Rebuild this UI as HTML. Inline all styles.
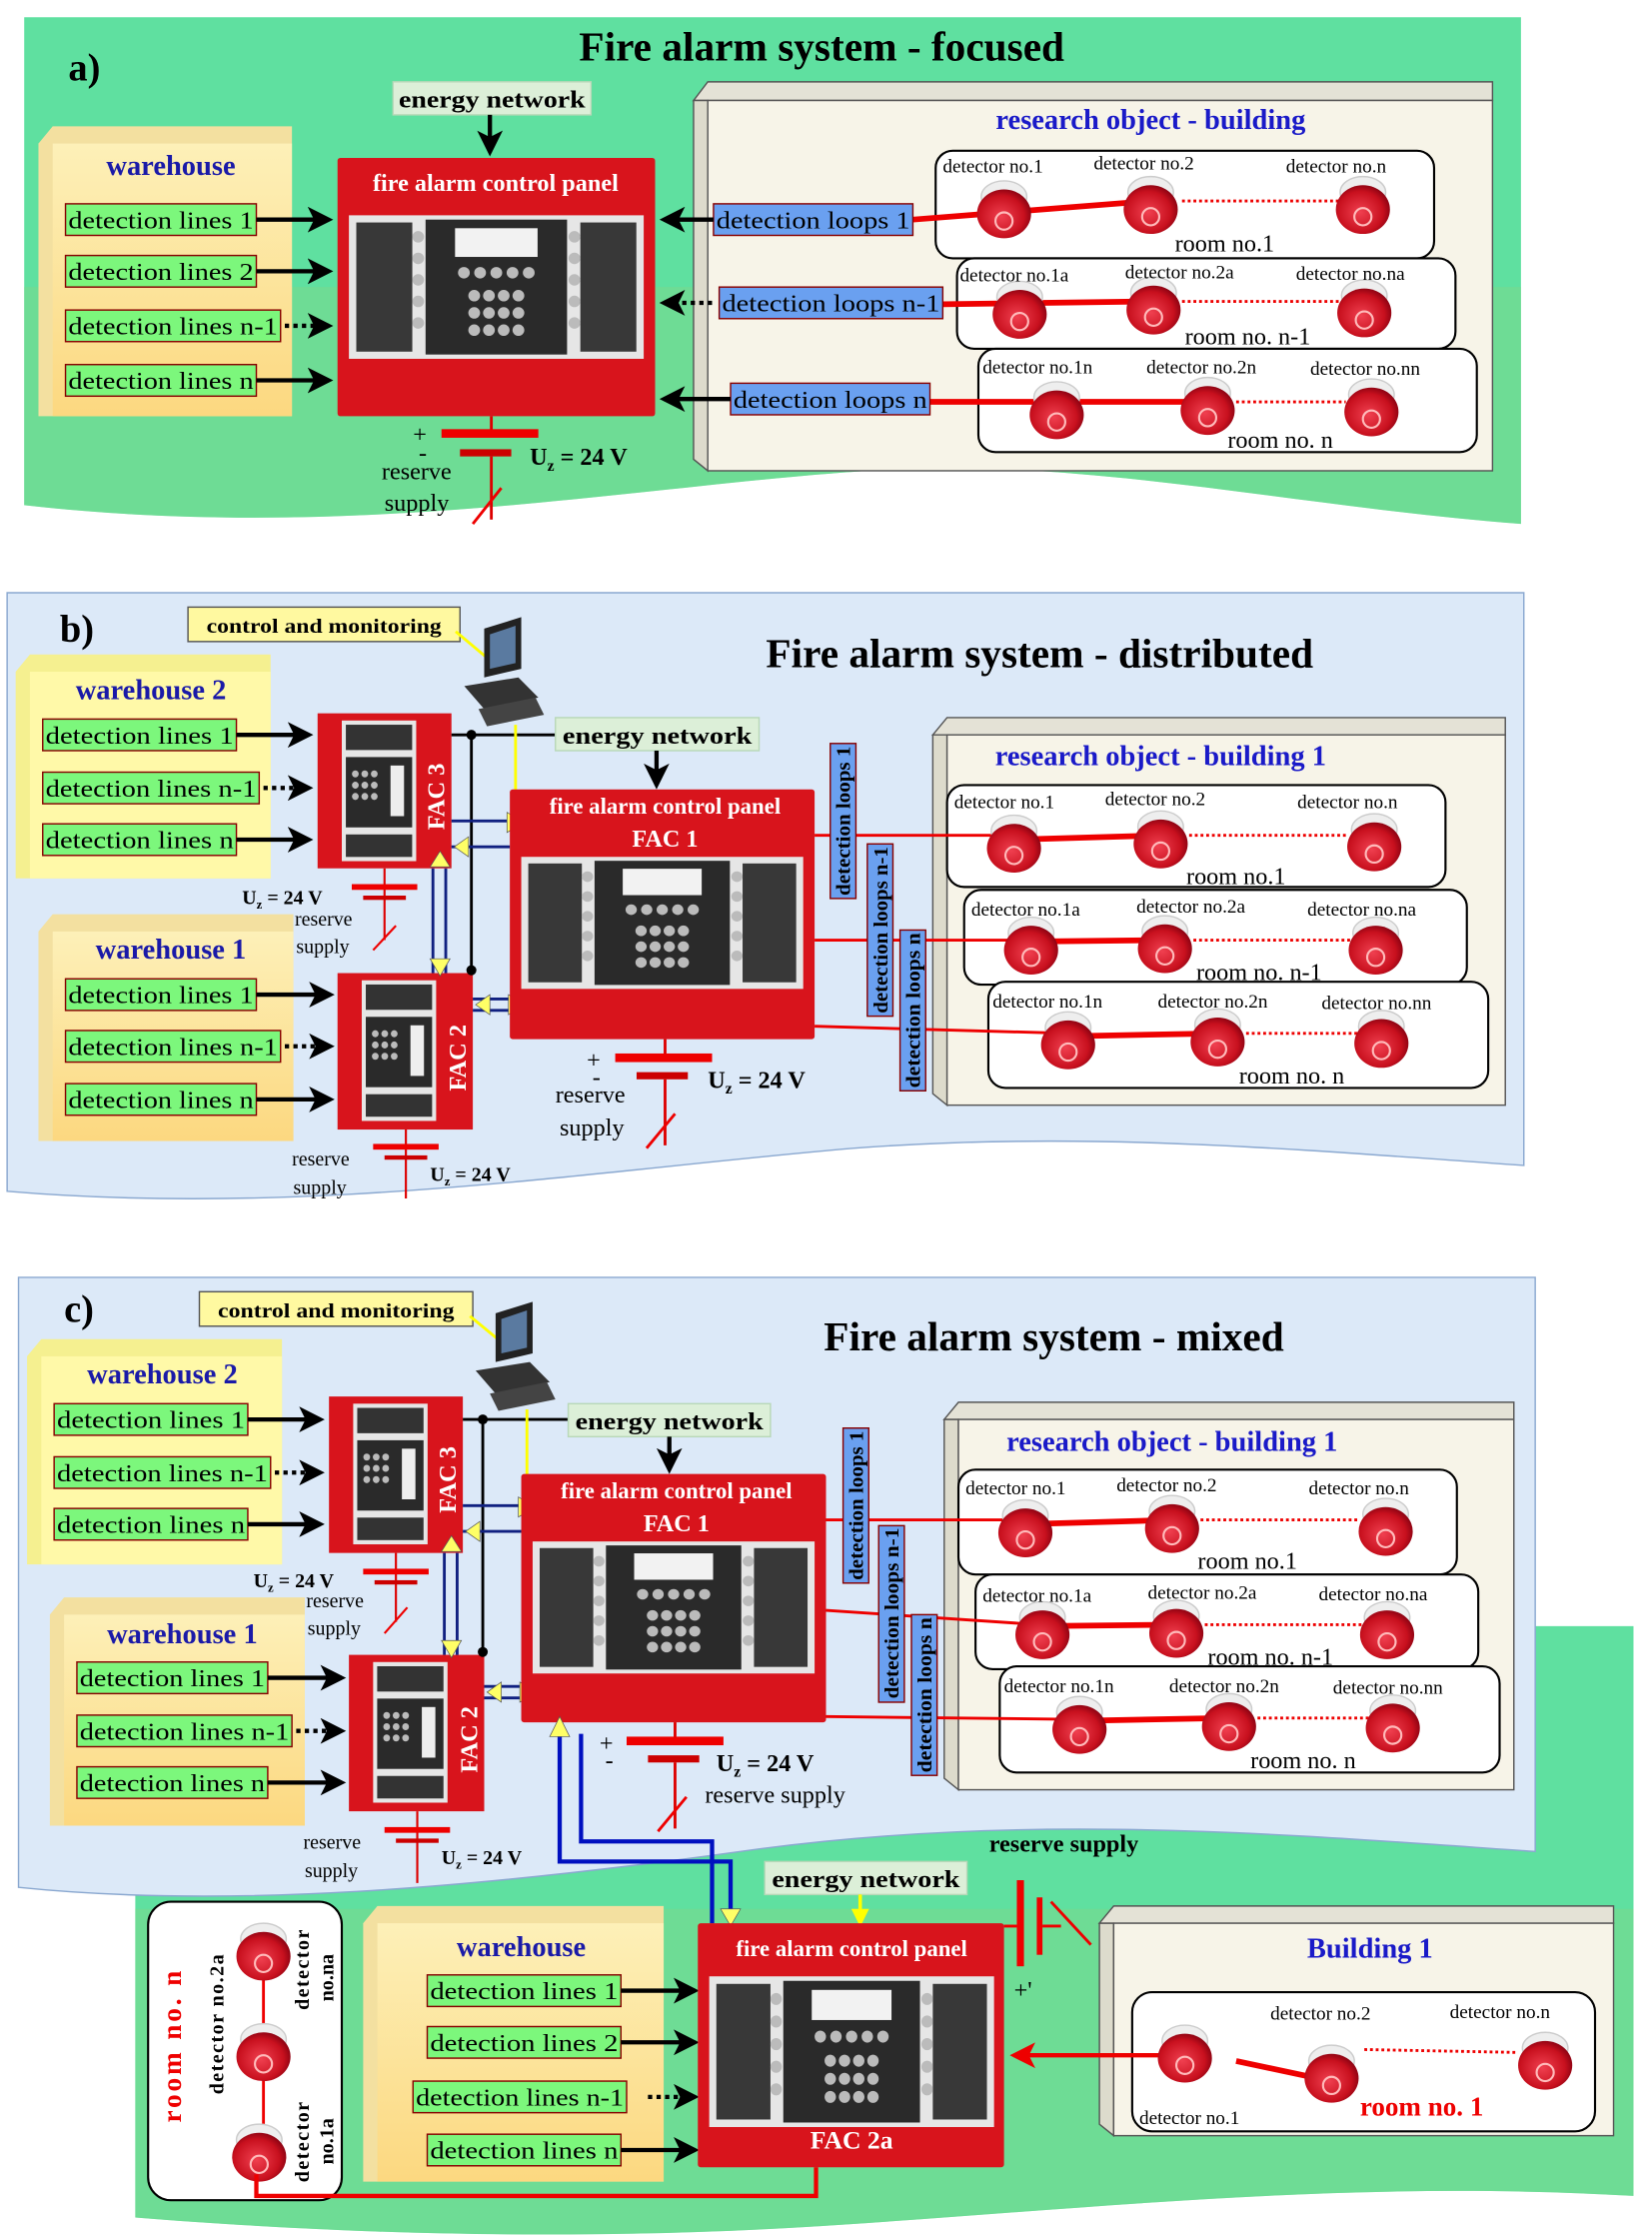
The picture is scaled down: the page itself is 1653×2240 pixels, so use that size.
<!DOCTYPE html>
<html><head><meta charset="utf-8"><style>
html,body{margin:0;padding:0;background:#fff}
svg{display:block}
text{font-family:"Liberation Serif",serif}
.t{font-size:17px;fill:#000}
.b{font-weight:bold}
.dl{font-size:13.5px}
</style></head><body>
<svg width="1653" height="2240" viewBox="0 0 1160 1560" preserveAspectRatio="none" xmlns="http://www.w3.org/2000/svg">
<defs>
<marker id="ah" markerWidth="6" markerHeight="6" refX="5" refY="3" orient="auto" markerUnits="strokeWidth"><path d="M0,0 L6,3 L0,6 L1.5,3z" fill="#000"/></marker>
<marker id="ahr" markerWidth="6" markerHeight="6" refX="5" refY="3" orient="auto" markerUnits="strokeWidth"><path d="M0,0 L6,3 L0,6 L1.5,3z" fill="#e00"/></marker>
<marker id="ahy" markerWidth="5" markerHeight="5" refX="4" refY="2.5" orient="auto" markerUnits="strokeWidth"><path d="M0,0 L5,2.5 L0,5z" fill="#ff0"/></marker>
<radialGradient id="rg" cx="0.45" cy="0.55" r="0.6"><stop offset="0" stop-color="#f04050"/><stop offset="0.7" stop-color="#c8101e"/><stop offset="1" stop-color="#800010"/></radialGradient>
<linearGradient id="wh" x1="0" y1="0" x2="0" y2="1"><stop offset="0" stop-color="#fdf0b8"/><stop offset="1" stop-color="#fcd880"/></linearGradient>
<g id="d"><ellipse cx="0" cy="-8" rx="16" ry="11" fill="#eee" stroke="#ccc"/><ellipse cx="0" cy="4" rx="19" ry="17" fill="url(#rg)"/><circle cx="0" cy="9" r="6" fill="none" stroke="#fbb" stroke-width="1.5"/></g>
<g id="face">
<rect x="0" y="0" width="200" height="100" fill="#e6e6e6"/>
<rect x="5" y="5" width="38" height="90" fill="#383838"/>
<rect x="52" y="3" width="96" height="94" fill="#2a2a2a"/>
<rect x="157" y="5" width="38" height="90" fill="#383838"/>
<rect x="72" y="9" width="56" height="20" fill="#f2f2f2"/>
<g fill="#bbb"><circle cx="78" cy="40" r="4"/><circle cx="89" cy="40" r="4"/><circle cx="100" cy="40" r="4"/><circle cx="111" cy="40" r="4"/><circle cx="122" cy="40" r="4"/>
<circle cx="85" cy="56" r="4"/><circle cx="95" cy="56" r="4"/><circle cx="105" cy="56" r="4"/><circle cx="115" cy="56" r="4"/>
<circle cx="85" cy="68" r="4"/><circle cx="95" cy="68" r="4"/><circle cx="105" cy="68" r="4"/><circle cx="115" cy="68" r="4"/>
<circle cx="85" cy="80" r="4"/><circle cx="95" cy="80" r="4"/><circle cx="105" cy="80" r="4"/><circle cx="115" cy="80" r="4"/>
<circle cx="47" cy="15" r="4"/><circle cx="47" cy="30" r="4"/><circle cx="47" cy="45" r="4"/><circle cx="47" cy="60" r="4"/><circle cx="47" cy="75" r="4"/>
<circle cx="153" cy="15" r="4"/><circle cx="153" cy="30" r="4"/><circle cx="153" cy="45" r="4"/><circle cx="153" cy="60" r="4"/><circle cx="153" cy="75" r="4"/></g>
</g>
<g id="vface">
<rect x="0" y="0" width="55" height="100" fill="#e6e6e6"/>
<rect x="3" y="3" width="49" height="18" fill="#333"/>
<rect x="3" y="26" width="49" height="50" fill="#2a2a2a"/>
<rect x="3" y="81" width="49" height="16" fill="#333"/>
<rect x="36" y="32" width="10" height="36" fill="#eee"/>
<g fill="#bbb"><circle cx="10" cy="38" r="2.5"/><circle cx="17" cy="38" r="2.5"/><circle cx="24" cy="38" r="2.5"/><circle cx="10" cy="46" r="2.5"/><circle cx="17" cy="46" r="2.5"/><circle cx="24" cy="46" r="2.5"/><circle cx="10" cy="54" r="2.5"/><circle cx="17" cy="54" r="2.5"/><circle cx="24" cy="54" r="2.5"/></g>
</g>
<g id="pc"><path d="M14,0 L40,-8 L40,28 L14,34z" fill="#222"/><path d="M18,4 L36,-2 L36,24 L18,28z" fill="#5a7aa0"/><path d="M0,40 L38,34 L52,48 L14,56z" fill="#333"/><path d="M10,56 L50,48 L56,60 L16,68z" fill="#444"/></g>
</defs>

<!-- ========== A ========== -->
<path d="M17,12 H1068 V365 C900,352 760,318 610,328 C450,338 250,378 17,352 Z" fill="#5fe0a0"/>
<path d="M17,200 H1068 V365 C900,352 760,318 610,328 C450,338 250,378 17,352 Z" fill="#7ed88a" opacity="0.5"/>
<text x="577" y="42" text-anchor="middle" class="b" font-size="29">Fire alarm system - focused</text>
<text x="48" y="56" class="b" font-size="27">a)</text>
<rect x="276" y="57" width="139" height="23" fill="#dcefd8" stroke="#b8d8b8"/>
<text x="280" y="75" class="t b" textLength="131" lengthAdjust="spacingAndGlyphs">energy network</text>
<line x1="344" y1="80" x2="344" y2="106" stroke="#000" stroke-width="3" marker-end="url(#ah)"/>
<path d="M27,100 L37,88 L205,88 L205,290 L27,290z" fill="#f3e0a0"/>
<rect x="37" y="100" width="168" height="190" fill="url(#wh)"/>
<text x="120" y="122" text-anchor="middle" class="b" font-size="20" fill="#1a1aa8">warehouse</text>
<g class="t">
<rect x="46" y="142" width="134" height="22" fill="#7cf77c" stroke="#800"/><text x="48" y="159" textLength="130" lengthAdjust="spacingAndGlyphs">detection lines 1</text>
<rect x="46" y="178" width="134" height="22" fill="#7cf77c" stroke="#800"/><text x="48" y="195" textLength="130" lengthAdjust="spacingAndGlyphs">detection lines 2</text>
<rect x="46" y="216" width="151" height="22" fill="#7cf77c" stroke="#800"/><text x="48" y="233" textLength="147" lengthAdjust="spacingAndGlyphs">detection lines n-1</text>
<rect x="46" y="254" width="134" height="22" fill="#7cf77c" stroke="#800"/><text x="48" y="271" textLength="130" lengthAdjust="spacingAndGlyphs">detection lines n</text>
</g>
<g stroke="#000" stroke-width="3"><line x1="180" y1="153" x2="231" y2="153" marker-end="url(#ah)"/><line x1="180" y1="189" x2="231" y2="189" marker-end="url(#ah)"/><line x1="200" y1="227" x2="231" y2="227" stroke-dasharray="3 3" marker-end="url(#ah)"/><line x1="180" y1="265" x2="231" y2="265" marker-end="url(#ah)"/></g>
<rect x="237" y="110" width="223" height="180" fill="#d8141c" rx="2"/>
<text x="348" y="133" text-anchor="middle" class="b" font-size="17" fill="#fff">fire alarm control panel</text>
<use href="#face" transform="translate(245,150) scale(1.035,1)"/>
<line x1="345" y1="290" x2="345" y2="302" stroke="#d00" stroke-width="2"/>
<rect x="310" y="299" width="68" height="6" fill="#e00"/>
<rect x="323" y="313" width="36" height="5" fill="#c00"/>
<line x1="345" y1="318" x2="345" y2="362" stroke="#d00" stroke-width="2"/>
<line x1="332" y1="365" x2="352" y2="340" stroke="#e00" stroke-width="2"/>
<text x="290" y="308" class="t">+</text><text x="294" y="321" class="t">-</text>
<text x="268" y="334" class="t">reserve</text><text x="270" y="356" class="t">supply</text>
<text x="372" y="324" class="t b">U<tspan font-size="11" dy="4">z</tspan><tspan dy="-4"> = 24 V</tspan></text>
<path d="M487,70 L497,57 L1048,57 L1048,70z" fill="#e4e2d6" stroke="#555"/>
<path d="M487,70 L497,70 L497,328 L487,320z" fill="#dddbcc" stroke="#555"/>
<rect x="497" y="70" width="551" height="258" fill="#f7f4e8" stroke="#555"/>
<text x="808" y="90" text-anchor="middle" class="b" font-size="20" fill="#1a1ac8">research object - building</text>
<rect x="657" y="105" width="350" height="75" rx="12" fill="#fff" stroke="#000" stroke-width="1.5"/>
<rect x="672" y="180" width="350" height="63" rx="12" fill="#fff" stroke="#000" stroke-width="1.5"/>
<rect x="687" y="243" width="350" height="72" rx="12" fill="#fff" stroke="#000" stroke-width="1.5"/>
<g stroke="#e00" stroke-width="4"><line x1="641" y1="153" x2="808" y2="140"/><line x1="662" y1="212" x2="810" y2="210"/><line x1="653" y1="280" x2="848" y2="280"/></g>
<g stroke="#e00" stroke-width="2" stroke-dasharray="2 2"><line x1="830" y1="140" x2="940" y2="140"/><line x1="830" y1="210" x2="940" y2="210"/><line x1="868" y1="280" x2="945" y2="280"/></g>
<use href="#d" x="705" y="145"/><use href="#d" x="808" y="142"/><use href="#d" x="957" y="142"/>
<use href="#d" x="716" y="215"/><use href="#d" x="810" y="212"/><use href="#d" x="958" y="214"/>
<use href="#d" x="742" y="285"/><use href="#d" x="848" y="282"/><use href="#d" x="963" y="283"/>
<g class="dl">
<text x="662" y="120">detector no.1</text><text x="768" y="118">detector no.2</text><text x="903" y="120">detector no.n</text>
<text x="674" y="196">detector no.1a</text><text x="790" y="194">detector no.2a</text><text x="910" y="195">detector no.na</text>
<text x="690" y="260">detector no.1n</text><text x="805" y="260">detector no.2n</text><text x="920" y="261">detector no.nn</text>
</g>
<g class="t"><text x="825" y="175">room no.1</text><text x="832" y="240">room no. n-1</text><text x="862" y="312">room no. n</text></g>
<g class="t">
<rect x="501" y="142" width="140" height="22" fill="#6aa0f0" stroke="#800"/><text x="503" y="159" textLength="136" lengthAdjust="spacingAndGlyphs">detection loops 1</text>
<rect x="505" y="200" width="157" height="22" fill="#6aa0f0" stroke="#800"/><text x="507" y="217" textLength="153" lengthAdjust="spacingAndGlyphs">detection loops n-1</text>
<rect x="513" y="267" width="140" height="22" fill="#6aa0f0" stroke="#800"/><text x="515" y="284" textLength="136" lengthAdjust="spacingAndGlyphs">detection loops n</text>
</g>
<g stroke="#000" stroke-width="3"><line x1="501" y1="153" x2="466" y2="153" marker-end="url(#ah)"/><line x1="500" y1="211" x2="466" y2="211" stroke-dasharray="3 3" marker-end="url(#ah)"/><line x1="513" y1="278" x2="466" y2="278" marker-end="url(#ah)"/></g>

<!-- ========== B ========== -->
<path d="M5,413 H1070 V812 C900,800 760,788 600,800 C420,815 220,848 5,830 Z" fill="#dce9f8" stroke="#8aa8d0"/>
<text x="730" y="465" text-anchor="middle" class="b" font-size="29">Fire alarm system - distributed</text>
<text x="42" y="447" class="b" font-size="27">b)</text>
<rect x="132" y="423" width="191" height="24" fill="#fff9a0" stroke="#555"/>
<text x="145" y="441" class="b" font-size="14" textLength="165" lengthAdjust="spacingAndGlyphs">control and monitoring</text>
<line x1="320" y1="440" x2="350" y2="465" stroke="#ff0" stroke-width="2" marker-end="url(#ahy)"/>
<use href="#pc" x="326" y="438"/>
<path d="M11,468 L21,456 L190,456 L190,612 L11,612z" fill="#f5f090"/>
<rect x="21" y="468" width="169" height="144" fill="#fff9a8"/>
<text x="106" y="487" text-anchor="middle" class="b" font-size="20" fill="#1a1aa8">warehouse 2</text>
<g class="t">
<rect x="30" y="501" width="136" height="22" fill="#7cf77c" stroke="#800"/><text x="32" y="518" textLength="132" lengthAdjust="spacingAndGlyphs">detection lines 1</text>
<rect x="30" y="538" width="152" height="22" fill="#7cf77c" stroke="#800"/><text x="32" y="555" textLength="148" lengthAdjust="spacingAndGlyphs">detection lines n-1</text>
<rect x="30" y="574" width="136" height="22" fill="#7cf77c" stroke="#800"/><text x="32" y="591" textLength="132" lengthAdjust="spacingAndGlyphs">detection lines n</text>
</g>
<g stroke="#000" stroke-width="3"><line x1="166" y1="512" x2="217" y2="512" marker-end="url(#ah)"/><line x1="185" y1="549" x2="217" y2="549" stroke-dasharray="3 3" marker-end="url(#ah)"/><line x1="166" y1="585" x2="217" y2="585" marker-end="url(#ah)"/></g>
<path d="M27,649 L37,637 L206,637 L206,795 L27,795z" fill="#f3e0a0"/>
<rect x="37" y="649" width="169" height="146" fill="url(#wh)"/>
<text x="120" y="668" text-anchor="middle" class="b" font-size="20" fill="#1a1aa8">warehouse 1</text>
<g class="t">
<rect x="46" y="682" width="134" height="22" fill="#7cf77c" stroke="#800"/><text x="48" y="699" textLength="130" lengthAdjust="spacingAndGlyphs">detection lines 1</text>
<rect x="46" y="718" width="151" height="22" fill="#7cf77c" stroke="#800"/><text x="48" y="735" textLength="147" lengthAdjust="spacingAndGlyphs">detection lines n-1</text>
<rect x="46" y="755" width="134" height="22" fill="#7cf77c" stroke="#800"/><text x="48" y="772" textLength="130" lengthAdjust="spacingAndGlyphs">detection lines n</text>
</g>
<g stroke="#000" stroke-width="3"><line x1="180" y1="693" x2="232" y2="693" marker-end="url(#ah)"/><line x1="200" y1="729" x2="232" y2="729" stroke-dasharray="3 3" marker-end="url(#ah)"/><line x1="180" y1="766" x2="232" y2="766" marker-end="url(#ah)"/></g>
<rect x="223" y="497" width="94" height="108" fill="#d8141c"/>
<use href="#vface" transform="translate(240,502) scale(0.95,0.98)"/>
<text transform="translate(312,555) rotate(-90)" text-anchor="middle" class="b" font-size="17" fill="#fff">FAC 3</text>
<rect x="237" y="678" width="95" height="109" fill="#d8141c"/>
<use href="#vface" transform="translate(254,683) scale(0.95,0.98)"/>
<text transform="translate(327,737) rotate(-90)" text-anchor="middle" class="b" font-size="17" fill="#fff">FAC 2</text>
<g stroke="#000" stroke-width="2"><line x1="317" y1="512" x2="390" y2="512"/><line x1="331" y1="512" x2="331" y2="678"/></g>
<circle cx="331" cy="512" r="3.5"/><circle cx="331" cy="676" r="3.5"/>
<line x1="362" y1="505" x2="362" y2="552" stroke="#ff0" stroke-width="2"/>
<g stroke="#102080" stroke-width="2"><line x1="317" y1="572" x2="358" y2="572"/><line x1="317" y1="590" x2="358" y2="590"/><line x1="304" y1="605" x2="304" y2="678"/><line x1="313" y1="605" x2="313" y2="678"/><line x1="332" y1="696" x2="358" y2="696"/><line x1="332" y1="704" x2="358" y2="704"/></g>
<g fill="#ff6" stroke="#555" stroke-width="0.5"><path d="M356,566 L368,573 L356,580z"/><path d="M319,590 L329,583 L329,597z"/><path d="M302,604 L309,593 L316,604z"/><path d="M302,668 L316,668 L309,680z"/><path d="M334,700 L344,693 L344,707z"/><path d="M357,693 L369,700 L357,707z"/></g>
<rect x="358" y="550" width="214" height="174" fill="#d8141c" rx="2"/>
<text x="467" y="567" text-anchor="middle" class="b" font-size="16" fill="#fff">fire alarm control panel</text>
<text x="467" y="590" text-anchor="middle" class="b" font-size="17" fill="#fff">FAC 1</text>
<use href="#face" transform="translate(366,597) scale(0.99,0.92)"/>
<rect x="390" y="500" width="143" height="23" fill="#dcefd8" stroke="#b8d8b8"/>
<text x="395" y="518" class="t b" textLength="133" lengthAdjust="spacingAndGlyphs">energy network</text>
<line x1="461" y1="523" x2="461" y2="547" stroke="#000" stroke-width="3" marker-end="url(#ah)"/>
<line x1="467" y1="724" x2="467" y2="736" stroke="#d00" stroke-width="2"/>
<rect x="432" y="734" width="68" height="6" fill="#e00"/><rect x="447" y="747" width="36" height="5" fill="#c00"/>
<line x1="467" y1="752" x2="467" y2="798" stroke="#d00" stroke-width="2"/><line x1="454" y1="800" x2="474" y2="776" stroke="#e00" stroke-width="2"/>
<text x="412" y="744" class="t">+</text><text x="416" y="756" class="t">-</text>
<text x="390" y="768" class="t">reserve</text><text x="393" y="791" class="t">supply</text>
<text x="497" y="758" class="t b">U<tspan font-size="11" dy="4">z</tspan><tspan dy="-4"> = 24 V</tspan></text>
<line x1="270" y1="605" x2="270" y2="655" stroke="#d00" stroke-width="1.5"/>
<rect x="247" y="616" width="46" height="4" fill="#e00"/><rect x="255" y="624" width="30" height="3" fill="#c00"/>
<line x1="262" y1="662" x2="278" y2="645" stroke="#e00" stroke-width="1.5"/>
<text x="170" y="630" font-size="14" class="b">U<tspan font-size="9" dy="3">z</tspan><tspan dy="-3"> = 24 V</tspan></text>
<text x="207" y="645" font-size="14">reserve</text><text x="208" y="664" font-size="14">supply</text>
<line x1="285" y1="787" x2="285" y2="835" stroke="#d00" stroke-width="1.5"/>
<rect x="262" y="797" width="46" height="4" fill="#e00"/><rect x="270" y="805" width="30" height="3" fill="#c00"/>
<text x="205" y="812" font-size="14">reserve</text><text x="206" y="832" font-size="14">supply</text>
<text x="302" y="823" font-size="14" class="b">U<tspan font-size="9" dy="3">z</tspan><tspan dy="-3"> = 24 V</tspan></text>
<path d="M655,512 L665,500 L1057,500 L1057,512z" fill="#e4e2d6" stroke="#555"/>
<path d="M655,512 L665,512 L665,770 L655,762z" fill="#dddbcc" stroke="#555"/>
<rect x="665" y="512" width="392" height="258" fill="#f7f4e8" stroke="#555"/>
<text x="815" y="533" text-anchor="middle" class="b" font-size="20" fill="#1a1ac8">research object - building 1</text>
<rect x="665" y="547" width="350" height="71" rx="12" fill="#fff" stroke="#000" stroke-width="1.5"/>
<rect x="677" y="620" width="353" height="66" rx="12" fill="#fff" stroke="#000" stroke-width="1.5"/>
<rect x="694" y="684" width="351" height="74" rx="12" fill="#fff" stroke="#000" stroke-width="1.5"/>
<g stroke="#e00" stroke-width="2"><line x1="572" y1="582" x2="712" y2="582"/><line x1="572" y1="655" x2="722" y2="655"/><line x1="572" y1="715" x2="750" y2="720"/></g>
<g stroke="#e00" stroke-width="4"><line x1="712" y1="585" x2="815" y2="582"/><line x1="722" y1="656" x2="818" y2="655"/><line x1="750" y1="722" x2="855" y2="720"/></g>
<g stroke="#e00" stroke-width="2" stroke-dasharray="2 2"><line x1="835" y1="582" x2="945" y2="582"/><line x1="838" y1="655" x2="948" y2="655"/><line x1="875" y1="720" x2="955" y2="720"/></g>
<use href="#d" x="712" y="587"/><use href="#d" x="815" y="584"/><use href="#d" x="965" y="586"/>
<use href="#d" x="724" y="658"/><use href="#d" x="818" y="657"/><use href="#d" x="966" y="658"/>
<use href="#d" x="750" y="724"/><use href="#d" x="855" y="722"/><use href="#d" x="970" y="723"/>
<g class="dl">
<text x="670" y="563">detector no.1</text><text x="776" y="561">detector no.2</text><text x="911" y="563">detector no.n</text>
<text x="682" y="638">detector no.1a</text><text x="798" y="636">detector no.2a</text><text x="918" y="638">detector no.na</text>
<text x="697" y="702">detector no.1n</text><text x="813" y="702">detector no.2n</text><text x="928" y="703">detector no.nn</text>
</g>
<g class="t"><text x="833" y="616">room no.1</text><text x="840" y="683">room no. n-1</text><text x="870" y="755">room no. n</text></g>
<g font-size="14" class="b">
<rect x="583" y="518" width="18" height="108" fill="#6aa0f0" stroke="#800"/><text transform="translate(597,572) rotate(-90)" text-anchor="middle" textLength="104" lengthAdjust="spacingAndGlyphs">detection loops 1</text>
<rect x="609" y="588" width="18" height="120" fill="#6aa0f0" stroke="#800"/><text transform="translate(623,648) rotate(-90)" text-anchor="middle" textLength="116" lengthAdjust="spacingAndGlyphs">detection loops n-1</text>
<rect x="632" y="648" width="18" height="112" fill="#6aa0f0" stroke="#800"/><text transform="translate(646,704) rotate(-90)" text-anchor="middle" textLength="108" lengthAdjust="spacingAndGlyphs">detection loops n</text>
</g>

<!-- ========== C ========== -->
<path d="M95,1133 H1147 V1530 C940,1518 760,1540 560,1552 C380,1562 220,1555 95,1545 Z" fill="#5fe0a0"/>
<path d="M95,1330 H1147 V1530 C940,1518 760,1540 560,1552 C380,1562 220,1555 95,1545 Z" fill="#7ed88a" opacity="0.5"/>
<path d="M13,890 H1078 V1290 C900,1278 720,1262 520,1290 C330,1316 160,1330 13,1315 Z" fill="#dce9f8" stroke="#8aa8d0"/>
<text x="740" y="941" text-anchor="middle" class="b" font-size="29">Fire alarm system - mixed</text>
<text x="45" y="921" class="b" font-size="27">c)</text>
<rect x="140" y="900" width="192" height="24" fill="#fff9a0" stroke="#555"/>
<text x="153" y="918" class="b" font-size="14" textLength="166" lengthAdjust="spacingAndGlyphs">control and monitoring</text>
<line x1="330" y1="917" x2="358" y2="940" stroke="#ff0" stroke-width="2" marker-end="url(#ahy)"/>
<use href="#pc" x="334" y="915"/>
<path d="M19,945 L29,933 L198,933 L198,1090 L19,1090z" fill="#f5f090"/>
<rect x="29" y="945" width="169" height="145" fill="#fff9a8"/>
<text x="114" y="964" text-anchor="middle" class="b" font-size="20" fill="#1a1aa8">warehouse 2</text>
<g class="t">
<rect x="38" y="978" width="136" height="22" fill="#7cf77c" stroke="#800"/><text x="40" y="995" textLength="132" lengthAdjust="spacingAndGlyphs">detection lines 1</text>
<rect x="38" y="1015" width="152" height="22" fill="#7cf77c" stroke="#800"/><text x="40" y="1032" textLength="148" lengthAdjust="spacingAndGlyphs">detection lines n-1</text>
<rect x="38" y="1051" width="136" height="22" fill="#7cf77c" stroke="#800"/><text x="40" y="1068" textLength="132" lengthAdjust="spacingAndGlyphs">detection lines n</text>
</g>
<g stroke="#000" stroke-width="3"><line x1="174" y1="989" x2="225" y2="989" marker-end="url(#ah)"/><line x1="193" y1="1026" x2="225" y2="1026" stroke-dasharray="3 3" marker-end="url(#ah)"/><line x1="174" y1="1062" x2="225" y2="1062" marker-end="url(#ah)"/></g>
<path d="M35,1125 L45,1113 L214,1113 L214,1272 L35,1272z" fill="#f3e0a0"/>
<rect x="45" y="1125" width="169" height="147" fill="url(#wh)"/>
<text x="128" y="1145" text-anchor="middle" class="b" font-size="20" fill="#1a1aa8">warehouse 1</text>
<g class="t">
<rect x="54" y="1158" width="134" height="22" fill="#7cf77c" stroke="#800"/><text x="56" y="1175" textLength="130" lengthAdjust="spacingAndGlyphs">detection lines 1</text>
<rect x="54" y="1195" width="151" height="22" fill="#7cf77c" stroke="#800"/><text x="56" y="1212" textLength="147" lengthAdjust="spacingAndGlyphs">detection lines n-1</text>
<rect x="54" y="1231" width="134" height="22" fill="#7cf77c" stroke="#800"/><text x="56" y="1248" textLength="130" lengthAdjust="spacingAndGlyphs">detection lines n</text>
</g>
<g stroke="#000" stroke-width="3"><line x1="188" y1="1169" x2="240" y2="1169" marker-end="url(#ah)"/><line x1="208" y1="1206" x2="240" y2="1206" stroke-dasharray="3 3" marker-end="url(#ah)"/><line x1="188" y1="1242" x2="240" y2="1242" marker-end="url(#ah)"/></g>
<rect x="231" y="973" width="94" height="109" fill="#d8141c"/>
<use href="#vface" transform="translate(248,978) scale(0.95,0.98)"/>
<text transform="translate(320,1031) rotate(-90)" text-anchor="middle" class="b" font-size="17" fill="#fff">FAC 3</text>
<rect x="245" y="1153" width="95" height="109" fill="#d8141c"/>
<use href="#vface" transform="translate(262,1158) scale(0.95,0.98)"/>
<text transform="translate(335,1212) rotate(-90)" text-anchor="middle" class="b" font-size="17" fill="#fff">FAC 2</text>
<g stroke="#000" stroke-width="2"><line x1="325" y1="989" x2="399" y2="989"/><line x1="339" y1="989" x2="339" y2="1153"/></g>
<circle cx="339" cy="989" r="3.5"/><circle cx="339" cy="1151" r="3.5"/>
<line x1="370" y1="982" x2="370" y2="1029" stroke="#ff0" stroke-width="2"/>
<g stroke="#102080" stroke-width="2"><line x1="325" y1="1049" x2="366" y2="1049"/><line x1="325" y1="1067" x2="366" y2="1067"/><line x1="312" y1="1082" x2="312" y2="1153"/><line x1="321" y1="1082" x2="321" y2="1153"/><line x1="340" y1="1175" x2="366" y2="1175"/><line x1="340" y1="1183" x2="366" y2="1183"/></g>
<g fill="#ff6" stroke="#555" stroke-width="0.5"><path d="M364,1043 L376,1050 L364,1057z"/><path d="M327,1067 L337,1060 L337,1074z"/><path d="M310,1081 L317,1070 L324,1081z"/><path d="M310,1143 L324,1143 L317,1155z"/><path d="M342,1179 L352,1172 L352,1186z"/><path d="M365,1172 L377,1179 L365,1186z"/></g>
<rect x="366" y="1027" width="214" height="173" fill="#d8141c" rx="2"/>
<text x="475" y="1044" text-anchor="middle" class="b" font-size="16" fill="#fff">fire alarm control panel</text>
<text x="475" y="1067" text-anchor="middle" class="b" font-size="17" fill="#fff">FAC 1</text>
<use href="#face" transform="translate(374,1074) scale(0.99,0.92)"/>
<rect x="399" y="978" width="142" height="23" fill="#dcefd8" stroke="#b8d8b8"/>
<text x="404" y="996" class="t b" textLength="132" lengthAdjust="spacingAndGlyphs">energy network</text>
<line x1="470" y1="1001" x2="470" y2="1024" stroke="#000" stroke-width="3" marker-end="url(#ah)"/>
<line x1="474" y1="1200" x2="474" y2="1212" stroke="#d00" stroke-width="2"/>
<rect x="440" y="1210" width="68" height="6" fill="#e00"/><rect x="455" y="1223" width="36" height="5" fill="#c00"/>
<line x1="474" y1="1228" x2="474" y2="1274" stroke="#d00" stroke-width="2"/><line x1="462" y1="1276" x2="482" y2="1252" stroke="#e00" stroke-width="2"/>
<text x="421" y="1220" class="t">+</text><text x="425" y="1232" class="t">-</text>
<text x="503" y="1234" class="t b">U<tspan font-size="11" dy="4">z</tspan><tspan dy="-4"> = 24 V</tspan></text>
<text x="495" y="1256" class="t">reserve supply</text>
<line x1="278" y1="1082" x2="278" y2="1130" stroke="#d00" stroke-width="1.5"/>
<rect x="255" y="1093" width="46" height="4" fill="#e00"/><rect x="263" y="1101" width="30" height="3" fill="#c00"/>
<line x1="270" y1="1138" x2="286" y2="1120" stroke="#e00" stroke-width="1.5"/>
<text x="178" y="1106" font-size="14" class="b">U<tspan font-size="9" dy="3">z</tspan><tspan dy="-3"> = 24 V</tspan></text>
<text x="215" y="1120" font-size="14">reserve</text><text x="216" y="1139" font-size="14">supply</text>
<line x1="293" y1="1262" x2="293" y2="1312" stroke="#d00" stroke-width="1.5"/>
<rect x="270" y="1273" width="46" height="4" fill="#e00"/><rect x="278" y="1281" width="30" height="3" fill="#c00"/>
<text x="213" y="1288" font-size="14">reserve</text><text x="214" y="1308" font-size="14">supply</text>
<text x="310" y="1299" font-size="14" class="b">U<tspan font-size="9" dy="3">z</tspan><tspan dy="-3"> = 24 V</tspan></text>
<path d="M663,989 L673,977 L1063,977 L1063,989z" fill="#e4e2d6" stroke="#555"/>
<path d="M663,989 L673,989 L673,1247 L663,1239z" fill="#dddbcc" stroke="#555"/>
<rect x="673" y="989" width="390" height="258" fill="#f7f4e8" stroke="#555"/>
<text x="823" y="1011" text-anchor="middle" class="b" font-size="20" fill="#1a1ac8">research object - building 1</text>
<rect x="673" y="1024" width="350" height="73" rx="12" fill="#fff" stroke="#000" stroke-width="1.5"/>
<rect x="685" y="1097" width="353" height="66" rx="12" fill="#fff" stroke="#000" stroke-width="1.5"/>
<rect x="702" y="1161" width="351" height="74" rx="12" fill="#fff" stroke="#000" stroke-width="1.5"/>
<g stroke="#e00" stroke-width="2"><line x1="580" y1="1059" x2="720" y2="1059"/><line x1="580" y1="1122" x2="730" y2="1132"/><line x1="580" y1="1196" x2="758" y2="1198"/></g>
<g stroke="#e00" stroke-width="4"><line x1="720" y1="1062" x2="823" y2="1059"/><line x1="730" y1="1133" x2="826" y2="1132"/><line x1="758" y1="1199" x2="863" y2="1197"/></g>
<g stroke="#e00" stroke-width="2" stroke-dasharray="2 2"><line x1="843" y1="1059" x2="953" y2="1059"/><line x1="846" y1="1132" x2="956" y2="1132"/><line x1="883" y1="1197" x2="963" y2="1197"/></g>
<use href="#d" x="720" y="1064"/><use href="#d" x="823" y="1061"/><use href="#d" x="973" y="1063"/>
<use href="#d" x="732" y="1135"/><use href="#d" x="826" y="1134"/><use href="#d" x="974" y="1135"/>
<use href="#d" x="758" y="1201"/><use href="#d" x="863" y="1199"/><use href="#d" x="978" y="1200"/>
<g class="dl">
<text x="678" y="1041">detector no.1</text><text x="784" y="1039">detector no.2</text><text x="919" y="1041">detector no.n</text>
<text x="690" y="1116">detector no.1a</text><text x="806" y="1114">detector no.2a</text><text x="926" y="1115">detector no.na</text>
<text x="705" y="1179">detector no.1n</text><text x="821" y="1179">detector no.2n</text><text x="936" y="1180">detector no.nn</text>
</g>
<g class="t"><text x="841" y="1093">room no.1</text><text x="848" y="1160">room no. n-1</text><text x="878" y="1232">room no. n</text></g>
<g font-size="14" class="b">
<rect x="592" y="995" width="18" height="108" fill="#6aa0f0" stroke="#800"/><text transform="translate(606,1049) rotate(-90)" text-anchor="middle" textLength="104" lengthAdjust="spacingAndGlyphs">detection loops 1</text>
<rect x="617" y="1063" width="18" height="123" fill="#6aa0f0" stroke="#800"/><text transform="translate(631,1124) rotate(-90)" text-anchor="middle" textLength="119" lengthAdjust="spacingAndGlyphs">detection loops n-1</text>
<rect x="640" y="1125" width="18" height="112" fill="#6aa0f0" stroke="#800"/><text transform="translate(654,1181) rotate(-90)" text-anchor="middle" textLength="108" lengthAdjust="spacingAndGlyphs">detection loops n</text>
</g>
<g stroke="#0010c0" stroke-width="3" fill="none"><path d="M393,1208 V1297 H513 V1335"/><path d="M408,1208 V1283 H500 V1340"/></g>
<path d="M386,1210 L393,1196 L400,1210z" fill="#ff6" stroke="#555" stroke-width="0.5"/>
<path d="M506,1330 L520,1330 L513,1342z" fill="#ff6" stroke="#555" stroke-width="0.5"/>
<rect x="537" y="1297" width="142" height="23" fill="#dcefd8" stroke="#b8d8b8"/>
<text x="542" y="1315" class="t b" textLength="132" lengthAdjust="spacingAndGlyphs">energy network</text>
<line x1="604" y1="1320" x2="604" y2="1340" stroke="#ff0" stroke-width="2.5" marker-end="url(#ahy)"/>
<path d="M255,1340 L265,1328 L466,1328 L466,1520 L255,1520z" fill="#f3e0a0"/>
<rect x="265" y="1340" width="201" height="180" fill="url(#wh)"/>
<text x="366" y="1363" text-anchor="middle" class="b" font-size="20" fill="#1a1aa8">warehouse</text>
<g class="t">
<rect x="300" y="1376" width="136" height="22" fill="#7cf77c" stroke="#800"/><text x="302" y="1393" textLength="132" lengthAdjust="spacingAndGlyphs">detection lines 1</text>
<rect x="300" y="1412" width="136" height="22" fill="#7cf77c" stroke="#800"/><text x="302" y="1429" textLength="132" lengthAdjust="spacingAndGlyphs">detection lines 2</text>
<rect x="290" y="1450" width="150" height="22" fill="#7cf77c" stroke="#800"/><text x="292" y="1467" textLength="146" lengthAdjust="spacingAndGlyphs">detection lines n-1</text>
<rect x="300" y="1487" width="136" height="22" fill="#7cf77c" stroke="#800"/><text x="302" y="1504" textLength="132" lengthAdjust="spacingAndGlyphs">detection lines n</text>
</g>
<g stroke="#000" stroke-width="3"><line x1="436" y1="1387" x2="488" y2="1387" marker-end="url(#ah)"/><line x1="436" y1="1423" x2="488" y2="1423" marker-end="url(#ah)"/><line x1="455" y1="1461" x2="488" y2="1461" stroke-dasharray="3 3" marker-end="url(#ah)"/><line x1="436" y1="1498" x2="488" y2="1498" marker-end="url(#ah)"/></g>
<rect x="490" y="1340" width="215" height="170" fill="#d8141c" rx="2"/>
<text x="598" y="1363" text-anchor="middle" class="b" font-size="16" fill="#fff">fire alarm control panel</text>
<use href="#face" transform="translate(498,1377) scale(1.0,1.05)"/>
<text x="598" y="1497" text-anchor="middle" class="b" font-size="18" fill="#fff">FAC 2a</text>
<text x="747" y="1290" text-anchor="middle" class="t b">reserve supply</text>
<rect x="714" y="1310" width="5" height="60" fill="#e00"/>
<rect x="728" y="1322" width="4" height="40" fill="#e00"/>
<line x1="705" y1="1342" x2="714" y2="1342" stroke="#e00" stroke-width="2"/>
<line x1="732" y1="1342" x2="745" y2="1342" stroke="#e00" stroke-width="2"/>
<line x1="738" y1="1325" x2="766" y2="1355" stroke="#e00" stroke-width="2"/>
<text x="712" y="1392" class="t">+'</text>
<rect x="104" y="1325" width="136" height="208" rx="16" fill="#fff" stroke="#000" stroke-width="1.5"/>
<line x1="185" y1="1355" x2="185" y2="1495" stroke="#e00" stroke-width="2"/>
<use href="#d" x="185" y="1359"/><use href="#d" x="185" y="1429"/><use href="#d" x="182" y="1499"/>
<text transform="translate(127,1425) rotate(-90)" text-anchor="middle" class="b" font-size="19" fill="#e00" letter-spacing="2">room no. n</text>
<text transform="translate(157,1410) rotate(-90)" text-anchor="middle" class="b" font-size="14" letter-spacing="1">detector no.2a</text>
<text transform="translate(217,1372) rotate(-90)" text-anchor="middle" class="b" font-size="14" letter-spacing="1">detector</text>
<text transform="translate(234,1378) rotate(-90)" text-anchor="middle" class="b" font-size="14">no.na</text>
<text transform="translate(217,1492) rotate(-90)" text-anchor="middle" class="b" font-size="14" letter-spacing="1">detector</text>
<text transform="translate(234,1492) rotate(-90)" text-anchor="middle" class="b" font-size="14">no.1a</text>
<path d="M180,1515 V1530 H573 V1510" stroke="#e00" stroke-width="3" fill="none"/>
<path d="M772,1340 L782,1328 L1133,1328 L1133,1340z" fill="#e4e2d6" stroke="#555"/>
<path d="M772,1340 L782,1340 L782,1488 L772,1480z" fill="#dddbcc" stroke="#555"/>
<rect x="782" y="1340" width="351" height="148" fill="#f7f4e8" stroke="#555"/>
<text x="962" y="1364" text-anchor="middle" class="b" font-size="20" fill="#1a1ac8">Building 1</text>
<rect x="795" y="1388" width="325" height="97" rx="14" fill="#fff" stroke="#000" stroke-width="1.5"/>
<line x1="832" y1="1432" x2="712" y2="1432" stroke="#e00" stroke-width="3" marker-end="url(#ahr)"/>
<line x1="868" y1="1436" x2="925" y2="1448" stroke="#e00" stroke-width="4"/>
<line x1="958" y1="1428" x2="1065" y2="1430" stroke="#e00" stroke-width="2" stroke-dasharray="2 2"/>
<use href="#d" x="832" y="1430"/><use href="#d" x="935" y="1444"/><use href="#d" x="1085" y="1435"/>
<g class="dl"><text x="892" y="1407">detector no.2</text><text x="1018" y="1406">detector no.n</text><text x="800" y="1480">detector no.1</text></g>
<text x="955" y="1474" class="b" font-size="19" fill="#e00">room no. 1</text>
</svg>
</body></html>
